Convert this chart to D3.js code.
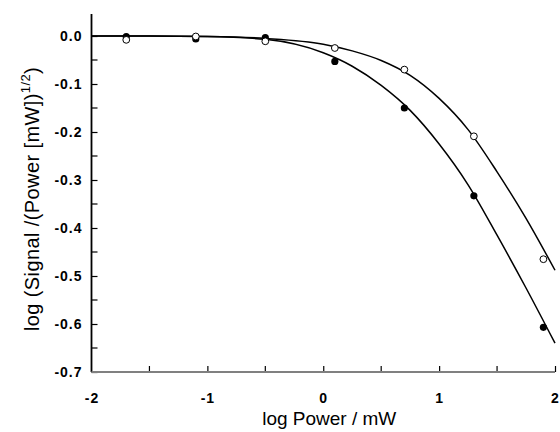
<!DOCTYPE html>
<html lang="en">
<head>
<meta charset="UTF-8">
<title>log Signal vs log Power</title>
<script src="https://d3js.org/d3.v7.min.js"></script>
<style>
  body { margin: 0; background: #fff; }
  svg { font-family: "Liberation Sans", Arial, sans-serif; }
</style>
</head>
<body>
<svg id="chart"></svg>
<script>
    const width = 560;
    const height = 432;

    // measured points
    var logPower = [-1.7, -1.1, -0.5, 0.1, 0.7, 1.3, 1.9];
    var filledY = [-0.0015, -0.006, -0.0035, -0.053, -0.15, -0.333, -0.607];
    var openY = [-0.008, -0.001, -0.011, -0.025, -0.07, -0.209, -0.465];

    // fitted curves
    var curveX = [-2, -1.5, -1, -0.5, 0, 0.25, 0.5, 0.75, 1, 1.25, 1.5, 1.75, 2];
    var filledFit = [0, 0, -0.001, -0.007, -0.035, -0.063, -0.103, -0.155, -0.225, -0.31, -0.415, -0.525, -0.64];
    var openFit = [0, 0, -0.001, -0.005, -0.017, -0.031, -0.051, -0.082, -0.13, -0.195, -0.283, -0.38, -0.488];

    var xTicks = [-2, -1, 0, 1, 2];
    var yTicks = [0, -0.1, -0.2, -0.3, -0.4, -0.5, -0.6, -0.7];

    const margin = {top: 14, right: 5, bottom: 60, left: 91.5};

    const x = d3.scaleLinear()
        .domain([-2, 2])
        .range([margin.left, width - margin.right]);

    const y = d3.scaleLinear()
        .domain([-0.7, 0])
        .range([height - margin.bottom, 36]);

    const svg = d3.select("#chart")
        .attr("width", width)
        .attr("height", height);

    // y axis
    const yAxis = svg.append("g")
        .attr("transform", `translate(${margin.left},0)`)
        .call(d3.axisRight(y).tickValues(yTicks).tickSize(6).tickFormat(d3.format(".1f")));
    yAxis.select(".domain").remove();
    yAxis.selectAll(".tick line").attr("stroke", "#000").attr("stroke-width", 1.2);
    yAxis.selectAll(".tick text")
        .attr("x", -9)
        .attr("text-anchor", "end")
        .attr("font-size", 14)
        .attr("font-weight", "bold")
        .attr("letter-spacing", 1)
        .attr("fill", "#000")
        .text(d => d === 0 ? "0.0" : d3.format(".1f")(d).replace("−", "-"));
    // minor y ticks
    svg.append("g").selectAll("line")
        .data(d3.range(-0.65, 0, 0.1))
        .join("line")
        .attr("x1", margin.left).attr("x2", margin.left + 6)
        .attr("y1", d => y(d)).attr("y2", d => y(d))
        .attr("stroke", "#000").attr("stroke-width", 1.2);
    svg.append("line")
        .attr("x1", margin.left).attr("x2", margin.left)
        .attr("y1", margin.top).attr("y2", y(-0.7))
        .attr("stroke", "#000").attr("stroke-width", 1.8);

    // x axis
    const xAxis = svg.append("g")
        .attr("transform", `translate(0,${y(-0.7)})`)
        .call(d3.axisTop(x).tickValues(xTicks).tickSize(6).tickFormat(d3.format("d")));
    xAxis.select(".domain").remove();
    xAxis.selectAll(".tick line").attr("stroke", "#000").attr("stroke-width", 1.2);
    xAxis.selectAll(".tick text")
        .attr("y", 31)
        .attr("font-size", 14)
        .attr("font-weight", "bold")
        .attr("letter-spacing", 1)
        .attr("fill", "#000")
        .text(d => String(d).replace("−", "-"));
    xAxis.select(".tick:first-of-type line").remove();
    svg.append("g").selectAll("line")
        .data(d3.range(-1.5, 2, 1))
        .join("line")
        .attr("x1", d => x(d)).attr("x2", d => x(d))
        .attr("y1", y(-0.7)).attr("y2", y(-0.7) - 6)
        .attr("stroke", "#000").attr("stroke-width", 1.2);
    svg.append("line")
        .attr("x1", margin.left).attr("x2", x(2))
        .attr("y1", y(-0.7)).attr("y2", y(-0.7))
        .attr("stroke", "#808080").attr("stroke-width", 2);

    // fitted lines
    const line = d3.line()
        .x(d => x(d[0]))
        .y(d => y(d[1]))
        .curve(d3.curveMonotoneX);

    svg.append("g")
        .attr("fill", "none")
        .attr("stroke", "#000")
        .attr("stroke-width", 1.5)
        .selectAll("path")
        .data([filledFit, openFit])
        .join("path")
        .attr("d", vals => line(curveX.map((v, i) => [v, vals[i]])));

    // markers
    svg.append("g").selectAll("circle")
        .data(logPower.map((v, i) => [v, filledY[i]]))
        .join("circle")
        .attr("cx", d => x(d[0]))
        .attr("cy", d => y(d[1]))
        .attr("r", 3.6)
        .attr("fill", "#000");

    svg.append("g").selectAll("circle")
        .data(logPower.map((v, i) => [v, openY[i]]))
        .join("circle")
        .attr("cx", d => x(d[0]))
        .attr("cy", d => y(d[1]))
        .attr("r", 3.4)
        .attr("fill", "#fff")
        .attr("stroke", "#000")
        .attr("stroke-width", 1);

    // axis titles
    svg.append("text")
        .attr("x", x(0) + 6)
        .attr("y", 425)
        .attr("text-anchor", "middle")
        .attr("font-size", 19)
        .text("log Power / mW");

    const yt = svg.append("text")
        .attr("transform", `translate(39,${(margin.top + y(-0.7)) / 2 + 6}) rotate(-90)`)
        .attr("text-anchor", "middle")
        .attr("font-size", 20)
        .attr("letter-spacing", 0.4);
    yt.append("tspan").text("log (Signal /(Power [mW])");
    yt.append("tspan").attr("dy", -9).attr("font-size", 13).text("1/2");
    yt.append("tspan").attr("dy", 9).text(")");
</script>
</body>
</html>
